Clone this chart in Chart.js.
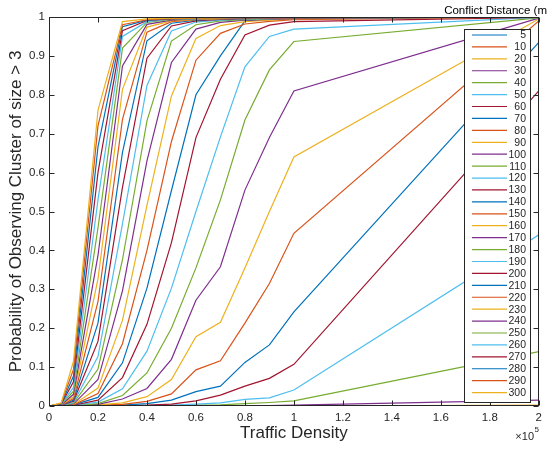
<!DOCTYPE html>
<html>
<head>
<meta charset="utf-8">
<script src="https://cdn.jsdelivr.net/npm/chart.js@4.4.1/dist/chart.umd.min.js"></script>
<style>
  html, body { margin: 0; padding: 0; background: #fff; }
  #wrap { width: 547px; height: 449px; position: relative; }
</style>
</head>
<body>
<div id="wrap"><canvas id="chart"></canvas></div>
<script>
  // Traffic density samples (vehicles), plotted in units of 1e5
  const densities = [0, 5000, 10000, 20000, 30000, 40000, 50000, 60000, 70000, 80000, 90000, 100000, 200000];

  // Conflict distance in metres, one curve each
  const distances = [5, 10, 20, 30, 40, 50, 60, 70, 80, 90, 100, 110, 120, 130, 140, 150,
    160, 170, 180, 190, 200, 210, 220, 230, 240, 250, 260, 270, 280, 290, 300];

  // Probability of observing a cluster of size > 3, per conflict distance
  const cd5   = [0, 0, 0, 0, 0, 0, 0, 0, 0, 0, 0, 0, 0];
  const cd10  = [0, 0, 0, 0, 0, 0, 0, 0, 0, 0, 0, 0, 0];
  const cd20  = [0, 0, 0, 0, 0, 0, 0, 0, 0, 0, 0, 0, 0.002];
  const cd30  = [0, 0, 0, 0, 0, 0, 0, 0, 0.001, 0.001, 0.001, 0.002, 0.015];
  const cd40  = [0, 0, 0, 0, 0, 0, 0.001, 0.002, 0.003, 0.006, 0.009, 0.013, 0.14];
  const cd50  = [0, 0, 0, 0, 0, 0.001, 0.002, 0.005, 0.008, 0.017, 0.021, 0.041, 0.44];
  const cd60  = [0, 0, 0, 0, 0.001, 0.002, 0.005, 0.013, 0.028, 0.051, 0.071, 0.107, 0.81];
  const cd70  = [0, 0, 0, 0.001, 0.002, 0.006, 0.015, 0.037, 0.051, 0.112, 0.157, 0.242, 0.935];
  const cd80  = [0, 0, 0, 0.002, 0.004, 0.012, 0.031, 0.093, 0.116, 0.213, 0.315, 0.444, 0.99];
  const cd90  = [0, 0, 0, 0.003, 0.008, 0.024, 0.068, 0.178, 0.215, 0.355, 0.5, 0.64, 0.995];
  const cd100 = [0, 0, 0.001, 0.004, 0.018, 0.045, 0.12, 0.272, 0.358, 0.555, 0.69, 0.81, 0.997];
  const cd110 = [0, 0, 0.001, 0.006, 0.027, 0.085, 0.2, 0.355, 0.53, 0.735, 0.864, 0.937, 0.998];
  const cd120 = [0, 0, 0.002, 0.01, 0.044, 0.141, 0.303, 0.5, 0.692, 0.872, 0.95, 0.969, 0.999];
  const cd130 = [0, 0, 0.002, 0.015, 0.073, 0.21, 0.42, 0.69, 0.84, 0.954, 0.979, 0.988, 0.999];
  const cd140 = [0, 0.001, 0.003, 0.022, 0.111, 0.303, 0.554, 0.8, 0.9, 0.99, 0.993, 0.995, 1];
  const cd150 = [0, 0.001, 0.003, 0.032, 0.16, 0.4, 0.68, 0.889, 0.958, 0.982, 0.989, 0.993, 1];
  const cd160 = [0, 0.001, 0.004, 0.046, 0.22, 0.516, 0.797, 0.945, 0.978, 0.988, 0.992, 0.995, 1];
  const cd170 = [0, 0.001, 0.005, 0.068, 0.296, 0.63, 0.883, 0.969, 0.986, 0.992, 0.994, 0.996, 1];
  const cd180 = [0, 0.001, 0.007, 0.095, 0.376, 0.733, 0.938, 0.98, 0.99, 0.993, 0.995, 0.997, 1];
  const cd190 = [0, 0.002, 0.009, 0.127, 0.468, 0.824, 0.964, 0.987, 0.992, 0.995, 0.996, 0.997, 1];
  const cd200 = [0, 0.002, 0.012, 0.166, 0.562, 0.894, 0.977, 0.99, 0.994, 0.996, 0.997, 0.998, 1];
  const cd210 = [0, 0.002, 0.015, 0.213, 0.652, 0.939, 0.984, 0.992, 0.995, 0.997, 0.998, 0.998, 1];
  const cd220 = [0, 0.002, 0.019, 0.268, 0.737, 0.961, 0.988, 0.993, 0.996, 0.997, 0.998, 0.998, 1];
  const cd230 = [0, 0.003, 0.024, 0.327, 0.814, 0.974, 0.99, 0.994, 0.996, 0.997, 0.998, 0.999, 1];
  const cd240 = [0, 0.003, 0.03, 0.387, 0.874, 0.981, 0.992, 0.995, 0.997, 0.998, 0.998, 0.999, 1];
  const cd250 = [0, 0.004, 0.038, 0.458, 0.92, 0.986, 0.994, 0.996, 0.997, 0.998, 0.999, 0.999, 1];
  const cd260 = [0, 0.004, 0.048, 0.53, 0.95, 0.988, 0.995, 0.996, 0.997, 0.998, 0.999, 0.999, 1];
  const cd270 = [0, 0.005, 0.062, 0.6, 0.965, 0.991, 0.995, 0.997, 0.998, 0.998, 0.999, 0.999, 1];
  const cd280 = [0, 0.006, 0.077, 0.666, 0.975, 0.992, 0.996, 0.997, 0.998, 0.999, 0.999, 1, 1];
  const cd290 = [0, 0.007, 0.094, 0.72, 0.98, 0.993, 0.996, 0.997, 0.998, 0.999, 0.999, 1, 1];
  const cd300 = [0, 0.008, 0.115, 0.76, 0.988, 0.995, 0.997, 0.998, 0.998, 0.999, 0.999, 1, 1];

  const curves = [cd5, cd10, cd20, cd30, cd40, cd50, cd60, cd70, cd80, cd90, cd100, cd110, cd120,
    cd130, cd140, cd150, cd160, cd170, cd180, cd190, cd200, cd210, cd220, cd230, cd240, cd250,
    cd260, cd270, cd280, cd290, cd300];

  // default MATLAB line colour order, cycled
  const palette = ["#0072BD", "#D95319", "#EDB120", "#7E2F8E", "#77AC30", "#4DBEEE", "#A2142F"];

  const axisColor = "#262626";
  const fontFamily = "'Liberation Sans', Arial, Helvetica, sans-serif";

  const datasets = distances.map((d, i) => ({
    label: String(d),
    data: densities.map((x, j) => ({ x: x, y: curves[i][j] })),
    borderColor: palette[i % palette.length],
    borderWidth: 1.2,
    pointRadius: 0,
    tension: 0,
    fill: false,
    order: distances.length - i // later curves sit on top
  }));

  // axes box with inward ticks on all four sides
  const framePlugin = {
    id: "frame",
    afterDatasetsDraw(chart) {
      const { ctx, chartArea: a, scales } = chart;
      const L = Math.round(a.left) + 0.5, R = Math.round(a.right) - 0.5;
      const T = Math.round(a.top) + 0.5, B = Math.round(a.bottom) - 0.5;
      const len = 5;
      ctx.save();
      ctx.strokeStyle = axisColor;
      ctx.lineWidth = 1;
      ctx.beginPath();
      scales.x.ticks.forEach(t => {
        const px = Math.round(scales.x.getPixelForValue(t.value)) + 0.5;
        ctx.moveTo(px, B); ctx.lineTo(px, B - len);
        ctx.moveTo(px, T); ctx.lineTo(px, T + len);
      });
      scales.y.ticks.forEach(t => {
        const py = Math.round(scales.y.getPixelForValue(t.value)) + 0.5;
        ctx.moveTo(L, py); ctx.lineTo(L + len, py);
        ctx.moveTo(R, py); ctx.lineTo(R - len, py);
      });
      ctx.stroke();
      ctx.strokeRect(L, T, R - L, B - T);
      ctx.restore();
    }
  };

  // boxed legend inside the axes, its title, and the x10^5 axis multiplier
  const legendPlugin = {
    id: "boxLegend",
    afterDraw(chart) {
      const { ctx } = chart;
      const left = 464.5, right = 530.5, top = 29.5, bottom = 402.5;
      const rowStart = 35, rowStep = 11.92;
      ctx.save();
      ctx.fillStyle = "#fff";
      ctx.fillRect(left, top, right - left, bottom - top);
      ctx.strokeStyle = axisColor;
      ctx.lineWidth = 1;
      ctx.strokeRect(left, top, right - left, bottom - top);

      ctx.font = "10.5px " + fontFamily;
      ctx.textBaseline = "middle";
      ctx.textAlign = "right";
      chart.data.datasets.forEach((ds, i) => {
        const y = rowStart + i * rowStep;
        ctx.strokeStyle = ds.borderColor;
        ctx.lineWidth = 1.2;
        ctx.beginPath();
        ctx.moveTo(472, y);
        ctx.lineTo(507, y);
        ctx.stroke();
        ctx.fillStyle = axisColor;
        ctx.fillText(ds.label, 526, y + 0.5);
      });

      ctx.font = "11.5px " + fontFamily;
      ctx.textAlign = "center";
      ctx.fillStyle = "#000";
      ctx.fillText("Conflict Distance (m)", (left + right) / 2, 11);

      ctx.fillStyle = axisColor;
      ctx.textBaseline = "alphabetic";
      ctx.textAlign = "right";
      ctx.font = "11px " + fontFamily;
      ctx.fillText("\u00d710", 534, 440);
      ctx.textAlign = "left";
      ctx.font = "8px " + fontFamily;
      ctx.fillText("5", 534.5, 432);
      ctx.restore();
    }
  };

  new Chart(document.getElementById("chart"), {
    type: "line",
    data: { datasets: datasets },
    options: {
      responsive: true,
      maintainAspectRatio: false,
      animation: false,
      devicePixelRatio: 1,
      layout: { padding: { top: 17, right: 5, left: 0, bottom: 0 } },
      plugins: {
        legend: { display: false },
        tooltip: { enabled: false }
      },
      scales: {
        x: {
          type: "linear",
          min: 0,
          max: 200000,
          grid: { display: false, drawTicks: false, tickLength: 0 },
          border: { display: false },
          ticks: {
            stepSize: 20000,
            maxRotation: 0,
            autoSkip: false,
            padding: 5,
            color: axisColor,
            font: { family: fontFamily, size: 11.5 },
            callback: v => String(Math.round(v / 1e4) / 10)
          },
          title: {
            display: true,
            text: "Traffic Density",
            color: axisColor,
            font: { family: fontFamily, size: 17 },
            padding: { top: 0, bottom: 5 }
          },
          afterFit: s => { s.height = 43; }
        },
        y: {
          min: 0,
          max: 1,
          grid: { display: false, drawTicks: false, tickLength: 0 },
          border: { display: false },
          ticks: {
            stepSize: 0.1,
            padding: 4,
            color: axisColor,
            font: { family: fontFamily, size: 11.5 },
            callback: v => String(Math.round(v * 10) / 10)
          },
          title: {
            display: true,
            text: "Probability of Observing Cluster of size > 3",
            color: axisColor,
            font: { family: fontFamily, size: 17 },
            padding: { top: 6, bottom: 0 }
          },
          afterFit: s => { s.width = 49; }
        }
      }
    },
    plugins: [framePlugin, legendPlugin]
  });
</script>
</body>
</html>
